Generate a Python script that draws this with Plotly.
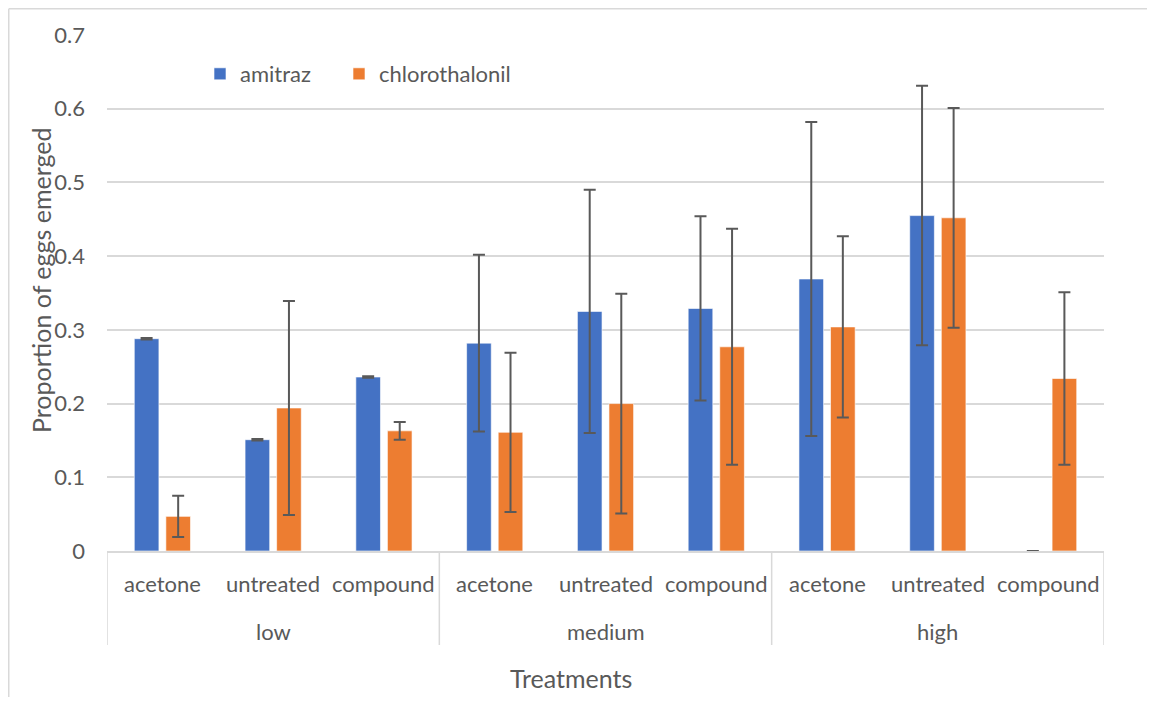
import plotly.graph_objects as go

levels = ["low", "medium", "high"]
treatments = ["acetone", "untreated", "compound"]

amitraz = [0.288, 0.151, 0.236, 0.282, 0.325, 0.329, 0.369, 0.455, 0.0]
amitraz_err = [0.001, 0.001, 0.001, 0.120, 0.165, 0.125, 0.213, 0.176, 0.0]
chloro = [0.047, 0.194, 0.163, 0.161, 0.200, 0.277, 0.304, 0.452, 0.234]
chloro_err = [0.028, 0.145, 0.012, 0.108, 0.149, 0.160, 0.123, 0.149, 0.117]

FONT = "Lato, Carlito, Calibri, sans-serif"
TXT = "#595959"
ERR = "#595959"
GRID = "#D9D9D9"

# category keys (level|treatment) for the x axis
keys = [f"{lv}|{tr}" for lv in levels for tr in treatments]

# page offset compensation (body margin 8px)
OFF = 8
W, H = 1155 - 2 * OFF, 705 - 2 * OFF
PL, PR, PT, PB = 107, 1104, 35, 551  # plot area in page pixels
PW, PH = PR - PL, PB - PT


def below(px):
    """paper y for a point px pixels below the x axis"""
    return -px / PH


def px_x(page_x):
    return (page_x - PL) / PW


def px_y(page_y):
    return (PB - page_y) / PH


fig = go.Figure()
fig.add_trace(go.Bar(
    name="amitraz", x=keys, y=amitraz, legend="legend",
    marker=dict(color="#4472C4", line=dict(color="rgba(255,255,255,0.6)", width=1)),
    error_y=dict(type="data", array=amitraz_err, visible=True, color=ERR, thickness=2, width=6),
))
fig.add_trace(go.Bar(
    name="chlorothalonil", x=keys, y=chloro, legend="legend2",
    marker=dict(color="#ED7D31", line=dict(color="rgba(255,255,255,0.6)", width=1)),
    error_y=dict(type="data", array=chloro_err, visible=True, color=ERR, thickness=2, width=6),
))

leg_common = dict(orientation="h", xanchor="left", yanchor="middle",
                  font=dict(size=22, color=TXT), bgcolor="rgba(0,0,0,0)", itemwidth=30)

fig.update_layout(
    width=W, height=H,
    margin=dict(l=PL - OFF, r=W - (PR - OFF), t=PT - OFF, b=H - (PB - OFF)),
    paper_bgcolor="white", plot_bgcolor="white",
    font=dict(family=FONT, size=22, color=TXT),
    barmode="group", bargap=0.43, bargroupgap=0.22,
    showlegend=True,
    legend=dict(x=px_x(200), y=px_y(74), **leg_common),
    legend2=dict(x=px_x(339), y=px_y(74), **leg_common),
    xaxis=dict(type="category", categoryorder="array", categoryarray=keys,
               range=[-0.5, len(keys) - 0.5],
               showline=True, linecolor=GRID, linewidth=1.5,
               showticklabels=False, ticks="", showgrid=False),
    yaxis=dict(range=[0, 0.7], dtick=0.1, tickformat="~g", showgrid=True,
               gridcolor=GRID, gridwidth=1.5, zeroline=False, showline=False,
               tickfont=dict(size=22, color=TXT), ticklabelstandoff=21),
)

# inner category labels (treatments)
for k in keys:
    fig.add_annotation(x=k, y=below(32), xref="x", yref="paper", text=k.split("|")[1],
                       showarrow=False, xanchor="center", yanchor="middle",
                       font=dict(size=22, color=TXT))

# outer labels (levels) and dividers
n = len(treatments)
for i, lv in enumerate(levels):
    fig.add_annotation(x=i * n + (n - 1) / 2, y=below(80), xref="x", yref="paper", text=lv,
                       showarrow=False, xanchor="center", yanchor="middle",
                       font=dict(size=22, color=TXT))
for i in range(len(levels) + 1):
    xv = i * n - 0.5
    fig.add_shape(type="line", xref="x", yref="paper", x0=xv, x1=xv, y0=0, y1=below(94),
                  line=dict(color=GRID, width=1.5))

# axis titles
fig.add_annotation(x=px_x(571), y=below(127), xref="paper", yref="paper",
                   text="Treatments", showarrow=False, xanchor="center", yanchor="middle",
                   font=dict(size=25, color=TXT))
fig.add_annotation(x=px_x(41), y=px_y(280), xref="paper", yref="paper",
                   text="Proportion of eggs emerged", textangle=-90, showarrow=False,
                   xanchor="center", yanchor="middle", font=dict(size=25, color=TXT))

# chart-area border (top and left edges visible in the reference)
fig.add_shape(type="line", xref="paper", yref="paper",
              x0=px_x(OFF + 0.75), x1=px_x(OFF + W), y0=px_y(OFF + 0.75), y1=px_y(OFF + 0.75),
              line=dict(color=GRID, width=1.5), layer="below")
fig.add_shape(type="line", xref="paper", yref="paper",
              x0=px_x(OFF + 0.75), x1=px_x(OFF + 0.75), y0=px_y(OFF + 0.75), y1=px_y(OFF + H),
              line=dict(color=GRID, width=1.5), layer="below")

fig.write_html("out.html")
